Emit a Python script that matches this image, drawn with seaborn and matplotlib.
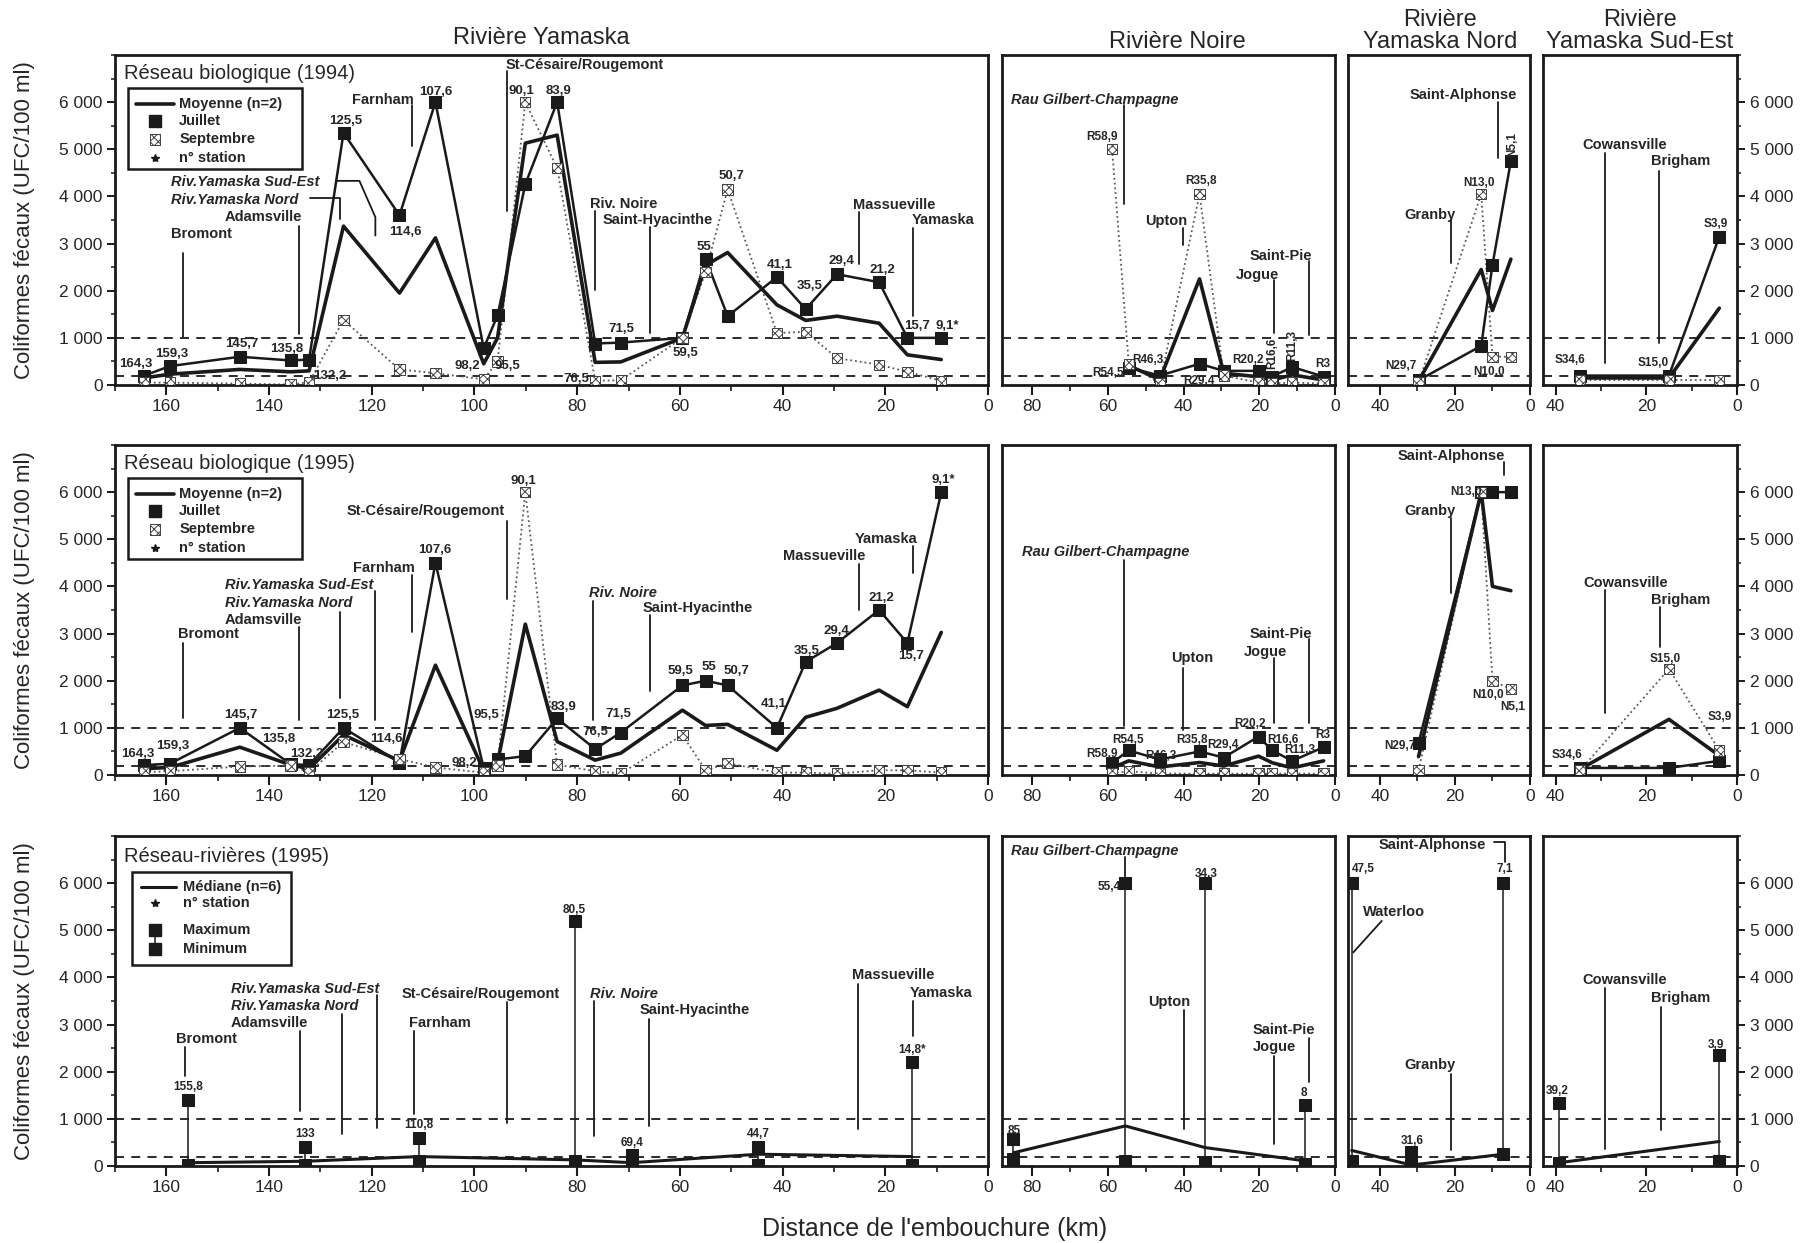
import numpy as np
import pandas as pd
import matplotlib
matplotlib.use("Agg")
import matplotlib.pyplot as plt
from matplotlib.patches import Rectangle
from matplotlib.ticker import FixedLocator, MultipleLocator, FuncFormatter
import seaborn as sns

sns.set_theme(style="white")
plt.rcParams["font.family"] = ["Liberation Sans", "DejaVu Sans"]
plt.rcParams["hatch.linewidth"] = 0.7
plt.rcParams["hatch.color"] = "0.25"

NaN = np.nan

# ------------------------------------------------------------------ data
# Rivière Yamaska, biological network stations (km from the mouth)
yam_km = [164.3, 159.3, 145.7, 135.8, 132.2, 125.5, 114.6, 107.6, 98.2, 95.5, 90.1, 83.9,
          76.5, 71.5, 59.5, 55.0, 50.7, 41.1, 35.5, 29.4, 21.2, 15.7, 9.1]
yam_lbl = ["164,3", "159,3", "145,7", "135,8", "132,2", "125,5", "114,6", "107,6", "98,2",
           "95,5", "90,1", "83,9", "76,5", "71,5", "59,5", "55", "50,7", "41,1", "35,5",
           "29,4", "21,2", "15,7", "9,1*"]
yam_jul94 = [200, 400, 600, 520, 540, 5350, 3600, 6000, 780, 1480, 4260, 6000,
             880, 900, 1000, 2680, 1460, 2290, 1610, 2350, 2180, 1000, 1000]
yam_sep94 = [50, 50, 30, 10, 60, 1380, 330, 250, 120, 500, 6000, 4600,
             90, 100, 1000, 2400, 4150, 1100, 1130, 570, 430, 280, 90]
yam_moy94 = [150, 230, 330, 280, 300, 3370, 1950, 3120, 450, 1000, 5130, 5300,
             480, 490, 1000, 2540, 2810, 1700, 1370, 1460, 1310, 640, 540]
yam_jul95 = [210, 240, 1000, 230, 210, 1000, 265, 4500, 140, 330, 400, 1200,
             550, 900, 1900, 2000, 1900, 1000, 2400, 2800, 3500, 2800, 6000]
yam_sep95 = [60, 80, 180, 200, 60, 700, 340, 160, 50, 200, 6000, 220,
             80, 30, 850, 100, 250, 50, 50, 30, 100, 100, 50]
yam_moy95 = [135, 160, 590, 215, 135, 850, 300, 2330, 95, 265, 3200, 710,
             315, 465, 1375, 1050, 1075, 525, 1225, 1415, 1800, 1450, 3025]

# Rivière Noire
noi_km = [58.9, 54.5, 46.3, 35.8, 29.4, 20.2, 16.6, 11.3, 3.0]
noi_lbl = ["R58,9", "R54,5", "R46,3", "R35,8", "R29,4", "R20,2", "R16,6", "R11,3", "R3"]
noi_jul94 = [NaN, 370, 200, 450, 300, 300, 180, 380, 180]
noi_sep94 = [5000, 450, 30, 4050, 200, 50, 30, 50, 30]
noi_moy94 = [NaN, 410, 115, 2250, 250, 175, 105, 215, 105]
noi_jul95 = [260, 520, 330, 500, 370, 815, 520, 300, 590]
noi_sep95 = [40, 80, 30, 30, 30, 30, 30, 30, 30]
noi_moy95 = [150, 300, 170, 265, 190, 400, 260, 150, 300]

# Rivière Yamaska Nord
nor_km = [29.7, 13.0, 10.0, 5.1]
nor_lbl = ["N29,7", "N13,0", "N10,0", "N5,1"]
nor_jul94 = [100, 830, 2550, 4750]
nor_sep94 = [50, 4050, 600, 600]
nor_moy94 = [80, 2450, 1580, 2670]
nor_jul95 = [680, 6000, 6000, 6000]
nor_sep95 = [100, 6000, 2000, 1820]
nor_moy95 = [390, 6000, 4000, 3910]

# Rivière Yamaska Sud-Est
sud_km = [34.6, 15.0, 3.9]
sud_lbl = ["S34,6", "S15,0", "S3,9"]
sud_jul94 = [200, 200, 3150]
sud_sep94 = [100, 100, 100]
sud_moy94 = [150, 150, 1630]
sud_jul95 = [150, 150, 300]
sud_sep95 = [100, 2250, 520]
sud_moy95 = [125, 1180, 410]

# Réseau-rivières 1995: maximum, minimum, median (n=6)
rr_yam_km = [155.8, 133.0, 110.8, 80.5, 69.4, 44.7, 14.8]
rr_yam_lbl = ["155,8", "133", "110,8", "80,5", "69,4", "44,7", "14,8*"]
rr_yam_max = [1400, 400, 600, 5200, 230, 400, 2200]
rr_yam_min = [20, 30, 100, 100, 30, 30, 30]
rr_yam_med = [70, 100, 200, 130, 70, 250, 200]

rr_noi_km = [85.0, 55.4, 34.3, 8.0]
rr_noi_lbl = ["85", "55,4", "34,3", "8"]
rr_noi_max = [570, 6000, 6000, 1300]
rr_noi_min = [140, 100, 90, 50]
rr_noi_med = [280, 850, 390, 110]

rr_nor_km = [47.5, 31.6, 7.1]
rr_nor_lbl = ["47,5", "31,6", "7,1"]
rr_nor_max = [6000, 300, 6000]
rr_nor_min = [100, 30, 250]
rr_nor_med = [330, 20, 250]

rr_sud_km = [39.2, 3.9]
rr_sud_lbl = ["39,2", "3,9"]
rr_sud_max = [1340, 2350]
rr_sud_min = [70, 110]
rr_sud_med = [70, 520]

# ------------------------------------------------------------------ label placement
yam94_lpos = [(165.9, 445), (159.0, 660), (145.4, 875), (136.5, 770), (128.2, 195),
              (125.1, 5600), (113.5, 3250), (107.6, 6215), (101.4, 410), (93.5, 410),
              (90.8, 6230), (83.6, 6230), (80.2, 120), (71.5, 1180), (59.0, 680),
              (55.3, 2930), (49.9, 4430), (40.5, 2535), (34.7, 2100), (28.5, 2640),
              (20.6, 2430), (13.8, 1250), (8.0, 1250)]
yam95_lpos = [(165.6, 445), (158.8, 625), (145.5, 1270), (138.2, 770), (132.6, 445),
              (125.7, 1270), (117.2, 770), (107.7, 4780), (102.0, 265), (97.7, 1270),
              (90.5, 6230), (82.7, 1450), (76.5, 910), (72.0, 1290), (59.8, 2210),
              (54.4, 2290), (49.0, 2210), (41.7, 1500), (35.3, 2640), (29.6, 3060),
              (20.7, 3750), (15.0, 2520), (8.8, 6250)]
noi94_lpos = [(57.4, 5260, "right", 0), (55.7, 260, "right", 0), (49.5, 520, "center", 0),
              (35.4, 4330, "center", 0), (35.9, 75, "center", 0), (22.9, 520, "center", 0),
              (16.5, 670, "center", 90), (11.2, 840, "center", 90), (3.3, 445, "center", 0)]
noi95_lpos = [(57.4, 445, "right", 0), (54.6, 740, "center", 0), (46.0, 410, "center", 0),
              (37.9, 740, "center", 0), (29.7, 630, "center", 0), (22.5, 1075, "center", 0),
              (13.8, 740, "center", 0), (9.4, 520, "center", 0), (3.3, 850, "center", 0)]
nor94_lpos = [(30.3, 400, "right", 0), (13.6, 4280, "center", 0), (10.9, 270, "center", 0),
              (4.8, 5100, "center", 90)]
nor95_lpos = [(30.5, 610, "right", 0), (12.9, 6010, "right", 0), (11.1, 1700, "center", 0),
              (4.6, 1440, "center", 0)]
sud94_lpos = [(36.8, 540, "center", 0), (18.4, 470, "center", 0), (4.6, 3420, "center", 0)]
sud95_lpos = [(37.6, 430, "center", 0), (15.8, 2460, "center", 0), (3.8, 1230, "center", 0)]
rr_yam_lpos = [(155.8, 1670, "center"), (133.0, 675, "center"), (110.8, 865, "center"),
               (80.5, 5425, "center"), (69.4, 490, "center"), (44.7, 670, "center"),
               (14.8, 2465, "center")]
rr_noi_lpos = [(84.8, 746, "center"), (56.5, 5920, "right"), (34.0, 6200, "center"),
               (8.1, 1550, "center")]
rr_nor_lpos = [(44.4, 6300, "center"), (31.4, 520, "center"), (6.8, 6300, "center")]
rr_sud_lpos = [(39.6, 1590, "center"), (4.6, 2570, "center")]

# town / tributary markers: (text, text km, text y, align, italic, polyline)
towns = {
    (0, "yam"): [
        ("Bromont", 159.0, 3200, "left", False, [(156.8, 2810), (156.8, 1020)]),
        ("Adamsville", 133.5, 3560, "right", False, [(134.2, 3380), (134.2, 1090)]),
        ("Riv.Yamaska Sud-Est", 159.0, 4300, "left", True,
         [(127.0, 4330), (122.4, 4330), (119.3, 3560), (119.3, 3170)]),
        ("Riv.Yamaska Nord", 159.0, 3920, "left", True, [(132.0, 3970), (126.2, 3970), (126.2, 3530)]),
        ("Farnham", 111.9, 6040, "right", False, [(112.1, 5950), (112.1, 5070)]),
        ("St-Césaire/Rougemont", 94.0, 6780, "left", False, [(93.6, 6660), (93.6, 3700)]),
        ("Riv. Noire", 77.6, 3850, "left", False, [(76.5, 3700), (76.5, 2020)]),
        ("Saint-Hyacinthe", 75.0, 3500, "left", False, [(65.8, 3360), (65.8, 1110)]),
        ("Massueville", 26.3, 3820, "left", False, [(25.1, 3660), (25.1, 2570)]),
        ("Yamaska", 14.8, 3490, "left", False, [(14.6, 3320), (14.6, 1460)]),
    ],
    (0, "noi"): [
        ("Rau Gilbert-Champagne", 85.6, 6040, "left", True, [(55.7, 5930), (55.7, 3850)]),
        ("Upton", 39.0, 3480, "right", False, [(40.3, 3330), (40.3, 2960)]),
        ("Saint-Pie", 22.6, 2740, "left", False, [(6.8, 2630), (6.8, 1070)]),
        ("Jogue", 26.2, 2330, "left", False, [(16.0, 2220), (16.0, 1110)]),
    ],
    (0, "nor"): [
        ("Saint-Alphonse", 32.2, 6150, "left", False, [(8.4, 6000), (8.4, 4820)]),
        ("Granby", 33.6, 3600, "left", False, [(21.0, 3490), (21.0, 2590)]),
    ],
    (0, "sud"): [
        ("Cowansville", 34.2, 5100, "left", False, [(29.2, 4930), (29.2, 470)]),
        ("Brigham", 18.9, 4750, "left", False, [(17.1, 4530), (17.1, 900)]),
    ],
    (1, "yam"): [
        ("Bromont", 157.8, 2990, "left", False, [(156.8, 2810), (156.8, 1200)]),
        ("Adamsville", 133.5, 3280, "right", False, [(134.2, 3150), (134.2, 1160)]),
        ("Riv.Yamaska Nord", 148.6, 3650, "left", True, [(126.2, 3450), (126.2, 1630)]),
        ("Riv.Yamaska Sud-Est", 148.6, 4030, "left", True, [(119.3, 3900), (119.3, 1160)]),
        ("Farnham", 111.6, 4390, "right", False, [(112.1, 4240), (112.1, 3030)]),
        ("St-Césaire/Rougemont", 94.2, 5610, "right", False, [(93.6, 5390), (93.6, 3740)]),
        ("Riv. Noire", 77.7, 3860, "left", True, [(76.9, 3700), (76.9, 1160)]),
        ("Saint-Hyacinthe", 67.2, 3535, "left", False, [(65.8, 3390), (65.8, 1790)]),
        ("Massueville", 39.9, 4640, "left", False, [(25.1, 4480), (25.1, 3500)]),
        ("Yamaska", 25.9, 5000, "left", False, [(14.6, 4850), (14.6, 4290)]),
    ],
    (1, "noi"): [
        ("Rau Gilbert-Champagne", 82.6, 4740, "left", True, [(55.7, 4560), (55.7, 1040)]),
        ("Upton", 43.3, 2480, "left", False, [(40.1, 2260), (40.1, 960)]),
        ("Saint-Pie", 22.6, 2990, "left", False, [(6.8, 2890), (6.8, 1110)]),
        ("Jogue", 24.0, 2610, "left", False, [(16.0, 2480), (16.0, 1110)]),
    ],
    (1, "nor"): [
        ("Saint-Alphonse", 35.4, 6770, "left", False, [(7.0, 6640), (7.0, 6360)]),
        ("Granby", 33.6, 5590, "left", False, [(21.0, 5450), (21.0, 3860)]),
    ],
    (1, "sud"): [
        ("Cowansville", 34.0, 4070, "left", False, [(29.2, 3930), (29.2, 1320)]),
        ("Brigham", 18.9, 3710, "left", False, [(16.9, 3570), (16.9, 2710)]),
    ],
    (2, "yam"): [
        ("Bromont", 158.1, 2700, "left", False, [(156.3, 2520), (156.3, 1910)]),
        ("Adamsville", 132.5, 3035, "right", False, [(133.9, 2870), (133.9, 1170)]),
        ("Riv.Yamaska Nord", 147.4, 3390, "left", True, [(125.8, 3220), (125.8, 670)]),
        ("Riv.Yamaska Sud-Est", 147.4, 3760, "left", True, [(119.0, 3620), (119.0, 815)]),
        ("St-Césaire/Rougemont", 114.2, 3650, "left", False, [(93.6, 3475), (93.6, 920)]),
        ("Farnham", 112.7, 3035, "left", False, [(111.8, 2870), (111.8, 1100)]),
        ("Riv. Noire", 77.6, 3650, "left", True, [(76.8, 3500), (76.8, 640)]),
        ("Saint-Hyacinthe", 67.8, 3300, "left", False, [(66.0, 3110), (66.0, 845)]),
        ("Massueville", 26.5, 4050, "left", False, [(25.3, 3870), (25.3, 775)]),
        ("Yamaska", 15.2, 3680, "left", False, [(14.6, 3490), (14.6, 2750)]),
    ],
    (2, "noi"): [
        ("Rau Gilbert-Champagne", 85.5, 6680, "left", True, [(55.4, 6550), (55.4, 6000)]),
        ("Upton", 49.4, 3480, "left", False, [(40.0, 3300), (40.0, 780)]),
        ("Saint-Pie", 21.7, 2880, "left", False, [(6.8, 2720), (6.8, 1780)]),
        ("Jogue", 21.7, 2520, "left", False, [(16.0, 2330), (16.0, 460)]),
    ],
    (2, "nor"): [
        ("Saint-Alphonse", 40.4, 6810, "left", False, [(9.5, 6870), (6.6, 6870), (6.6, 6450)]),
        ("Waterloo", 44.4, 5380, "left", False, [(39.5, 5200), (47.1, 4530)]),
        ("Granby", 33.6, 2140, "left", False, [(21.0, 1960), (21.0, 330)]),
    ],
    (2, "sud"): [
        ("Cowansville", 34.2, 3950, "left", False, [(29.2, 3770), (29.2, 360)]),
        ("Brigham", 18.9, 3570, "left", False, [(16.8, 3370), (16.8, 760)]),
    ],
}

# ------------------------------------------------------------------ layout
W, H = 1809, 1243
fig = plt.figure(figsize=(W / 100, H / 100), dpi=100)
fig.patch.set_facecolor("white")

cols = {"yam": (115, 988, (170, 0), 20), "noi": (1002, 1335, (88, 0), 20),
        "nor": (1348, 1530, (48.5, 0), 20), "sud": (1543, 1737, (42.8, 0), 20)}
rows = [(55, 385), (445, 775), (836, 1166)]

thou = FuncFormatter(lambda v, p: f"{int(round(v)):,}".replace(",", " "))


def make_axes(r, key):
    left, right, xlim, step = cols[key]
    top, bot = rows[r]
    ax = fig.add_axes([left / W, 1 - bot / H, (right - left) / W, (bot - top) / H])
    ax.set_facecolor("white")
    return ax


def finish_axes(ax, key):
    left, right, xlim, step = cols[key]
    ax.set_xlim(*xlim)
    ax.set_ylim(0, 7000)
    ax.set_xlabel("")
    ax.set_ylabel("")
    ax.xaxis.set_major_locator(MultipleLocator(step))
    ax.xaxis.set_minor_locator(MultipleLocator(10))
    ax.xaxis.set_major_formatter(FuncFormatter(lambda v, p: f"{int(round(v))}"))
    ax.tick_params(axis="x", which="major", direction="out", length=7, width=1.5,
                   labelsize=12.5, pad=3, bottom=True, color="k")
    ax.tick_params(axis="x", which="minor", direction="out", length=4, width=1.2,
                   bottom=True, color="k")
    ax.yaxis.set_major_locator(FixedLocator(np.arange(0, 6001, 1000)))
    ax.yaxis.set_minor_locator(FixedLocator(np.arange(500, 7001, 500)))
    ax.yaxis.set_major_formatter(thou)
    if key == "yam":
        ax.tick_params(axis="y", which="both", left=True, right=False, labelleft=True,
                       direction="out", color="k")
        ax.tick_params(axis="y", which="major", length=6, width=1.4, labelsize=12.5, pad=3)
        ax.tick_params(axis="y", which="minor", length=3, width=1.1)
    elif key == "sud":
        ax.yaxis.tick_right()
        ax.tick_params(axis="y", which="both", left=False, right=True, labelright=True,
                       labelleft=False, direction="out", color="k")
        ax.tick_params(axis="y", which="major", length=6, width=1.4, labelsize=12.5, pad=3)
        ax.tick_params(axis="y", which="minor", length=3, width=1.1)
    else:
        ax.tick_params(axis="y", which="both", left=False, right=False,
                       labelleft=False, labelright=False)
    for s in ax.spines.values():
        s.set_visible(True)
        s.set_color("k")
        s.set_linewidth(2.0)
    ax.axhline(1000, color="k", lw=1.3, ls=(0, (5, 4)), zorder=1)
    ax.axhline(200, color="k", lw=1.3, ls=(0, (5, 4)), zorder=1)


def line(ax, km, vals, **kw):
    df = pd.DataFrame({"km": km, "val": vals}).dropna()
    sns.lineplot(data=df, x="km", y="val", ax=ax, sort=False, estimator=None,
                 legend=False, **kw)


def hatched(ax, km, vals, size=55, z=4):
    df = pd.DataFrame({"km": km, "val": vals}).dropna()
    ax.scatter(df["km"], df["val"], marker="s", s=size, facecolor="white",
               edgecolor="0.25", hatch="xxxx", linewidths=0.7, zorder=z)


def label(ax, x, y, s, ha="center", rot=0, fs=9.5, italic=False, z=6):
    ax.text(x, y, s, ha=ha, va="center", fontsize=fs, fontweight="bold",
            rotation=rot, style="italic" if italic else "normal", zorder=z)


def draw_towns(ax, r, key, fs=10.5):
    for text, tx, ty, ha, ital, pts in towns[(r, key)]:
        xs, ys = zip(*pts)
        ax.plot(xs, ys, color="k", lw=1.3, zorder=2)
        label(ax, tx, ty, text, ha=ha, fs=fs, italic=ital)


def draw_bio(ax, km, jul, sep, moy):
    line(ax, km, sep, color="0.35", lw=1.3, linestyle=":")
    line(ax, km, moy, color="k", lw=2.6)
    line(ax, km, jul, color="k", lw=1.8, marker="s", markersize=8,
         markerfacecolor="k", markeredgecolor="k")
    hatched(ax, km, sep)


def bio_legend(ax, title):
    ax.text(168.2, 6610, title, ha="left", va="center", fontsize=14.5, zorder=6)
    ax.add_patch(Rectangle((133.6, 4590), 33.9, 1710, facecolor="white",
                           edgecolor="k", lw=1.8, zorder=5))
    ax.plot([165.9, 158.6], [5965, 5965], color="k", lw=2.6, zorder=6)
    ax.plot([162.2], [5605], marker="s", ms=8, color="k", zorder=6)
    hatched(ax, [162.2], [5210], z=7)
    ax.plot([162.2], [4815], marker="*", ms=6, color="k", zorder=6)
    for y, t in zip([5965, 5605, 5210, 4815],
                    ["Moyenne (n=2)", "Juillet", "Septembre", "n° station"]):
        ax.text(157.5, y, t, ha="left", va="center", fontsize=10.5, fontweight="bold", zorder=6)


def rr_legend(ax):
    ax.text(168.2, 6560, "Réseau-rivières (1995)", ha="left", va="center", fontsize=14.5, zorder=6)
    ax.add_patch(Rectangle((135.7, 4270), 30.9, 1970, facecolor="white",
                           edgecolor="k", lw=1.8, zorder=5))
    ax.plot([165.0, 158.1], [5920, 5920], color="k", lw=2.2, zorder=6)
    ax.plot([162.3], [5570], marker="*", ms=6, color="k", zorder=6)
    ax.plot([162.3, 162.3], [5000, 4610], color="k", lw=1.1, marker="s", ms=8, zorder=6)
    for y, t in zip([5920, 5570, 5000, 4610],
                    ["Médiane (n=6)", "n° station", "Maximum", "Minimum"]):
        ax.text(156.7, y, t, ha="left", va="center", fontsize=10.5, fontweight="bold", zorder=6)


# ------------------------------------------------------------------ biological network rows
bio = {
    "yam": (yam_km, yam_lbl, [(yam_jul94, yam_sep94, yam_moy94, yam94_lpos),
                              (yam_jul95, yam_sep95, yam_moy95, yam95_lpos)]),
    "noi": (noi_km, noi_lbl, [(noi_jul94, noi_sep94, noi_moy94, noi94_lpos),
                              (noi_jul95, noi_sep95, noi_moy95, noi95_lpos)]),
    "nor": (nor_km, nor_lbl, [(nor_jul94, nor_sep94, nor_moy94, nor94_lpos),
                              (nor_jul95, nor_sep95, nor_moy95, nor95_lpos)]),
    "sud": (sud_km, sud_lbl, [(sud_jul94, sud_sep94, sud_moy94, sud94_lpos),
                              (sud_jul95, sud_sep95, sud_moy95, sud95_lpos)]),
}

for r in (0, 1):
    for key in ("yam", "noi", "nor", "sud"):
        km, lbls, per_year = bio[key]
        jul, sep, moy, lpos = per_year[r]
        ax = make_axes(r, key)
        draw_bio(ax, km, jul, sep, moy)
        draw_towns(ax, r, key)
        for s, p in zip(lbls, lpos):
            if key == "yam":
                label(ax, p[0], p[1], s, fs=9.5)
            else:
                label(ax, p[0], p[1], s, ha=p[2], rot=p[3], fs=8.5)
        if key == "yam":
            bio_legend(ax, "Réseau biologique (1994)" if r == 0 else "Réseau biologique (1995)")
        finish_axes(ax, key)

# ------------------------------------------------------------------ river network row
rr = {
    "yam": (rr_yam_km, rr_yam_lbl, rr_yam_max, rr_yam_min, rr_yam_med, rr_yam_lpos),
    "noi": (rr_noi_km, rr_noi_lbl, rr_noi_max, rr_noi_min, rr_noi_med, rr_noi_lpos),
    "nor": (rr_nor_km, rr_nor_lbl, rr_nor_max, rr_nor_min, rr_nor_med, rr_nor_lpos),
    "sud": (rr_sud_km, rr_sud_lbl, rr_sud_max, rr_sud_min, rr_sud_med, rr_sud_lpos),
}
for key in ("yam", "noi", "nor", "sud"):
    km, lbls, mx, mn, med, lpos = rr[key]
    ax = make_axes(2, key)
    ax.vlines(km, mn, mx, color="k", lw=1.1, zorder=3)
    line(ax, km, med, color="k", lw=2.2)
    line(ax, km, mx, color="k", lw=0, marker="s", markersize=8,
         markerfacecolor="k", markeredgecolor="k")
    line(ax, km, mn, color="k", lw=0, marker="s", markersize=8,
         markerfacecolor="k", markeredgecolor="k")
    draw_towns(ax, 2, key)
    for s, p in zip(lbls, lpos):
        label(ax, p[0], p[1], s, ha=p[2], fs=8.5)
    if key == "yam":
        rr_legend(ax)
    finish_axes(ax, key)

# ------------------------------------------------------------------ figure texts
fig.text(541 / W, 1 - 38 / H, "Rivière Yamaska", ha="center", va="center", fontsize=17)
fig.text(1177 / W, 1 - 42 / H, "Rivière Noire", ha="center", va="center", fontsize=17)
fig.text(1440 / W, 1 - 31 / H, "Rivière\nYamaska Nord", ha="center", va="center",
         fontsize=17, linespacing=1.0)
fig.text(1640 / W, 1 - 31 / H, "Rivière\nYamaska Sud-Est", ha="center", va="center",
         fontsize=17, linespacing=1.0)
for top, bot in rows:
    fig.text(25 / W, 1 - (top + bot) / 2 / H, "Coliformes fécaux (UFC/100 ml)",
             rotation=90, ha="center", va="center", fontsize=16)
fig.text(935 / W, 1 - 1229 / H, "Distance de l'embouchure (km)", ha="center",
         va="center", fontsize=18)

fig.savefig("out.png", dpi=100, facecolor="white")
